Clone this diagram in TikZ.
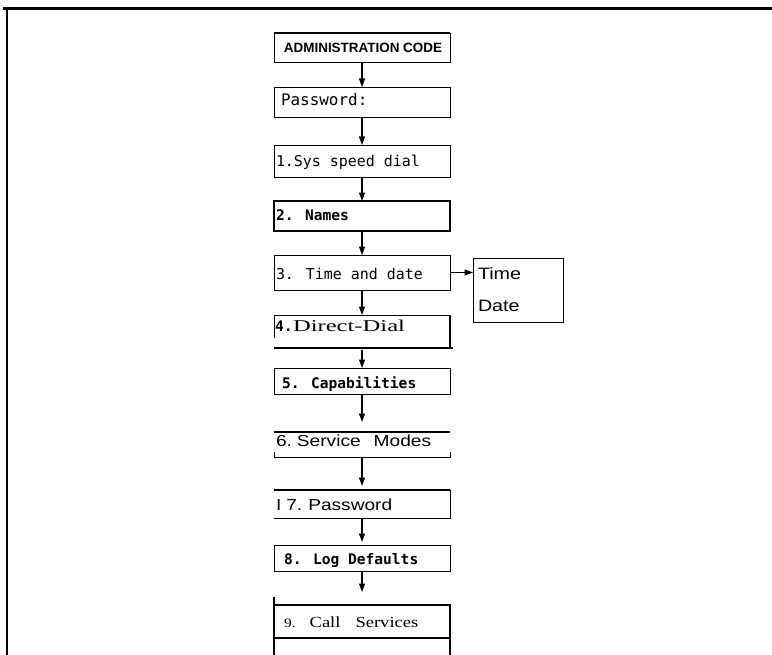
\documentclass[tikz,border=0pt]{standalone}
\usepackage{fontspec}
\usepackage{graphicx}
\usetikzlibrary{arrows.meta}
\newfontfamily\lcdfont{DejaVu Sans Mono}
\newfontfamily\helvfont[FakeStretch=1.2]{Liberation Sans}
\newfontfamily\helvplain{Liberation Sans}
\newfontfamily\serfont[FakeStretch=1.2]{Liberation Serif}
\newfontfamily\serplain{Liberation Serif}
\tikzset{
  boxn/.style={draw=none, minimum width=176bp, inner sep=0pt, outer sep=0pt},
  edge/.style={line width=0.9bp},
  bedge/.style={line width=1.5bp},
  heavy/.style={line width=2.4bp},
  arr/.style={line width=1.1bp, -{Triangle[length=8.5bp,width=6bp]}},
  lbl/.style={anchor=base west, inner sep=0pt, outer sep=0pt},
  lcd/.style={font={\lcdfont\fontsize{15}{17}\selectfont}},
  lcdb/.style={font={\lcdfont\bfseries\fontsize{14.6}{17}\selectfont}},
  helv/.style={font={\helvfont\fontsize{16}{18}\selectfont}},
  ser/.style={font={\serfont\fontsize{15.5}{18}\selectfont}}
}
\begin{document}
\begin{tikzpicture}[x=1bp,y=-1bp]
\useasboundingbox (0,0) rectangle (772,655);
% outer frame
\coordinate (fa) at (3,8.5);
\coordinate (fb) at (775,8.5);
\coordinate (fc) at (7,8.5);
\coordinate (fd) at (7,660);
\draw[heavy] (fa) -- (fb);
\draw[heavy] (fc) -- (fd);

% box nodes
\node[boxn, minimum height=29bp] (b0) at (362,47.5) {};
\node[boxn, minimum height=30bp] (b1) at (362,102) {};
\node[boxn, minimum height=32bp] (b2) at (362,161) {};
\node[boxn, minimum height=30bp] (b3) at (362,216) {};
\node[boxn, minimum height=35bp] (b4) at (362,272.5) {};
\node[boxn, minimum height=33bp] (b5) at (362,331.5) {};
\node[boxn, minimum height=26bp] (b6) at (362,381) {};
\node[boxn, minimum height=25bp] (b7) at (362,444.5) {};
\node[boxn, minimum height=28bp] (b8) at (362,504) {};
\node[boxn, minimum height=26bp] (b9) at (362,558) {};
\node[boxn, minimum height=33bp] (b10) at (362,621.5) {};
\node[boxn, minimum width=90bp, minimum height=64bp] (tt) at (518,290) {};

% borders
\draw[edge] (b0.north west) rectangle (b0.south east);
\draw[heavy] (b0.north west) -- (b0.north east);
\draw[edge] (b1.north west) rectangle (b1.south east);
\draw[edge] (b2.north west) rectangle (b2.south east);
\draw[bedge] (b3.north west) rectangle (b3.south east);
\draw[edge] (b4.north west) rectangle (b4.south east);
% box 4 (Direct-Dial): partial
\draw[edge] (b5.north west) -- (b5.north east);
\draw[edge] (b5.north west) -- ++(0,23);
\draw[bedge] (b5.north east) -- (b5.south east);
\draw[heavy] (b5.south west) -- ([xshift=3bp]b5.south east);
\draw[edge] (b6.north west) rectangle (b6.south east);
% box 6 (Service Modes)
\draw[heavy] (b7.north west) -- (b7.north east);
\draw[edge] ([yshift=5bp]b7.south west) -- (b7.south west) -- (b7.south east) -- ([yshift=5bp]b7.south east);
% box 7 (Password)
\draw[heavy] (b8.north west) -- (b8.north east);
\draw[edge] (b8.north east) -- (b8.south east) -- (b8.south west);
\draw[edge] (b9.north west) rectangle (b9.south east);
% box 9 (Call Services)
\draw[bedge] ([yshift=8bp]b10.north west) -- ++(0,60);
\draw[bedge] (b10.north west) -- (b10.north east) -- ++(0,52);
\draw[bedge] (b10.south west) -- (b10.south east);
\draw[edge] (tt.north west) rectangle (tt.south east);

% arrows
\draw[arr] (b0.south) -- (b1.north);
\draw[arr] (b1.south) -- (b2.north);
\draw[arr] (b2.south) -- (b3.north);
\draw[arr] (b3.south) -- (b4.north);
\draw[arr] (b4.south) -- (b5.north);
\draw[arr, shorten <=1.5bp] (b5.south) -- (b6.north);
\draw[arr, shorten >=10bp] (b6.south) -- (b7.north);
\draw[arr, shorten >=4bp] (b7.south) -- (b8.north);
\draw[arr, shorten >=3bp] (b8.south) -- (b9.north);
\draw[arr, shorten >=13bp] (b9.south) -- (b10.north);
\draw[arr] (b4.east) -- (b4.east -| tt.west);

% labels
\node[anchor=base, inner sep=0pt, font={\helvplain\bfseries\fontsize{13.5}{16}\selectfont}] (t0) at (363,53) {ADMINISTRATION CODE};
\node[lbl, font={\lcdfont\fontsize{16}{18}\selectfont}] (t1) at (281,105.5) {Password:};
\node[lbl, lcd] (t2) at (276,166) {1.Sys speed dial};
\node[lbl, lcdb] (t3) at (276,220) {2. Names};
\node[lbl, lcd] (t4) at (276,279) {3. Time and date};
\node[lbl, lcdb] (t5a) at (275,331) {4.};
\node[lbl] (t5) at (293,331) {\resizebox{112bp}{11.5bp}{\serplain Direct-Dial}};
\node[lbl, lcdb] (t6) at (282,388) {5. Capabilities};
\node[lbl, helv] (t7) at (276,446) {6.\hspace{5bp}Service\hspace{13bp}Modes};
\node[lbl, helv] (t8) at (276,510) {I\hspace{5bp}7.\hspace{6bp}Password};
\node[lbl, lcdb] (t9) at (284,564) {8. Log Defaults};
\node[lbl, ser] (t10) at (284,627) {{\fontsize{13}{15}\selectfont 9.}\hspace{14bp}Call\hspace{15bp}Services};
\node[lbl, font={\helvfont\fontsize{16.5}{19}\selectfont}] (ta) at (478,279) {Time};
\node[lbl, font={\helvfont\fontsize{16.5}{19}\selectfont}] (tb) at (478,311) {Date};
\end{tikzpicture}
\end{document}
